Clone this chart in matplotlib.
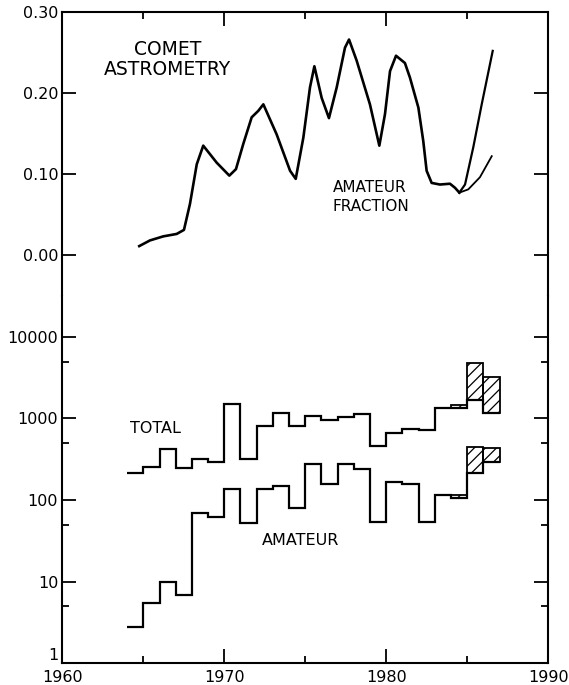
import numpy as np
import matplotlib
matplotlib.use("Agg")
import matplotlib.pyplot as plt
from matplotlib.ticker import FixedLocator, NullFormatter

# amateur fraction curve
frac_year = [1964.75, 1965.41, 1966.23, 1967.06, 1967.51, 1967.88, 1968.30, 1968.70,
             1969.53, 1970.31, 1970.72, 1971.17, 1971.69, 1972.10, 1972.41, 1973.23,
             1974.06, 1974.41, 1974.88, 1975.29, 1975.56, 1976.01, 1976.46, 1976.94,
             1977.45, 1977.70, 1978.17, 1978.99, 1979.57, 1979.92, 1980.23, 1980.60,
             1981.15, 1981.46, 1981.98, 1982.28, 1982.49, 1982.80, 1983.31, 1983.93,
             1984.24, 1984.51]
frac_val = [0.011, 0.018, 0.023, 0.026, 0.031, 0.063, 0.112, 0.135,
            0.114, 0.098, 0.106, 0.137, 0.170, 0.178, 0.186, 0.149,
            0.104, 0.094, 0.145, 0.207, 0.233, 0.194, 0.169, 0.207,
            0.256, 0.266, 0.240, 0.186, 0.135, 0.174, 0.227, 0.246,
            0.237, 0.219, 0.182, 0.141, 0.104, 0.089, 0.087, 0.088,
            0.083, 0.077]
# two branches after 1984.5
hi_year = [1984.51, 1984.86, 1985.37, 1985.89, 1986.57]
hi_val = [0.077, 0.087, 0.133, 0.186, 0.252]
lo_year = [1984.51, 1985.06, 1985.78, 1986.51]
lo_val = [0.077, 0.081, 0.096, 0.122]

# yearly counts 1964..1986
edges = list(range(1964, 1988))
total = [216, 256, 423, 245, 318, 295, 1506, 318, 809, 1158, 816, 1073,
         956, 1052, 1126, 464, 670, 743, 722, 1334, 1350, 1690, 1180]
amateur = [2.8, 5.4, 10, 6.8, 69, 61, 135, 52, 136, 150, 79, 274,
           157, 274, 240, 53, 165, 156, 54, 115, 105, 212, 295]
# uncertain (hatched) years
unc_year = [1984, 1985, 1986]
total_hi = [1470, 4750, 3200]
amateur_hi = [115, 451, 431]

fig = plt.figure(figsize=(5.69, 6.85), dpi=100)
ax1 = fig.add_axes([0.1095, 0.5686, 0.8541, 0.4139])
ax2 = fig.add_axes([0.1095, 0.0321, 0.8541, 0.5365])

FS = 11.5
for ax in (ax1, ax2):
    ax.set_xlim(1960, 1990)
    for s in ax.spines.values():
        s.set_linewidth(1.5)
    ax.xaxis.set_major_locator(FixedLocator([1960, 1970, 1980, 1990]))
    ax.xaxis.set_minor_locator(FixedLocator([1965, 1975, 1985]))
    ax.tick_params(axis='both', which='major', direction='in', length=10, width=1.3,
                   labelsize=FS, pad=3)
    ax.tick_params(axis='both', which='minor', direction='in', length=5, width=1.3)

# top panel
ax1.spines['bottom'].set_visible(False)
ax1.set_ylim(-0.05, 0.30)
ax1.set_yticks([0.0, 0.1, 0.2, 0.3])
ax1.set_yticklabels(['0.00', '0.10', '0.20', '0.30'])
ax1.tick_params(axis='x', which='both', bottom=False, top=True, labelbottom=False)
ax1.tick_params(axis='y', which='both', left=True, right=True)
ax1.plot(frac_year, frac_val, color='black', lw=1.9, solid_joinstyle='round')
ax1.plot(hi_year, hi_val, color='black', lw=1.6)
ax1.plot(lo_year, lo_val, color='black', lw=1.3)
ax1.text(1966.5, 0.266, 'COMET\nASTROMETRY', ha='center', va='top',
         fontsize=13.5, linespacing=1.1)
ax1.text(1976.7, 0.092, 'AMATEUR\nFRACTION', ha='left', va='top',
         fontsize=11, linespacing=1.3)

# bottom panel
ax2.spines['top'].set_visible(False)
ax2.set_yscale('log')
ax2.set_ylim(1, 10 ** 4.509)
ax2.yaxis.set_major_locator(FixedLocator([1, 10, 100, 1000, 10000]))
ax2.yaxis.set_minor_locator(FixedLocator([5, 50, 500, 5000]))
ax2.set_yticklabels(['1', '10', '100', '1000', '10000'])
ax2.yaxis.set_minor_formatter(NullFormatter())
ax2.set_xticklabels(['1960', '1970', '1980', '1990'])
ax2.tick_params(axis='x', which='both', bottom=True, top=False, pad=5)
ax2.tick_params(axis='y', which='both', left=True, right=True)
# lift the "1" so it clears the 1960 label
ax2.get_yticklabels()[0].set_verticalalignment('bottom')

ax2.stairs(total, edges, baseline=None, color='black', lw=1.6)
ax2.stairs(amateur, edges, baseline=None, color='black', lw=1.6)

plt.rcParams['hatch.linewidth'] = 0.9
lo_tot = [total[edges.index(y)] for y in unc_year]
lo_am = [amateur[edges.index(y)] for y in unc_year]
ax2.bar(unc_year, np.array(total_hi) - np.array(lo_tot), bottom=lo_tot, width=1,
        align='edge', fill=False, edgecolor='black', lw=1.3, hatch='///')
ax2.bar(unc_year, np.array(amateur_hi) - np.array(lo_am), bottom=lo_am, width=1,
        align='edge', fill=False, edgecolor='black', lw=1.3, hatch='///')

ax2.text(1964.2, 610, 'TOTAL', ha='left', va='bottom', fontsize=FS)
ax2.text(1972.3, 39, 'AMATEUR', ha='left', va='top', fontsize=FS)

fig.savefig('out.png', dpi=100, facecolor='white')
